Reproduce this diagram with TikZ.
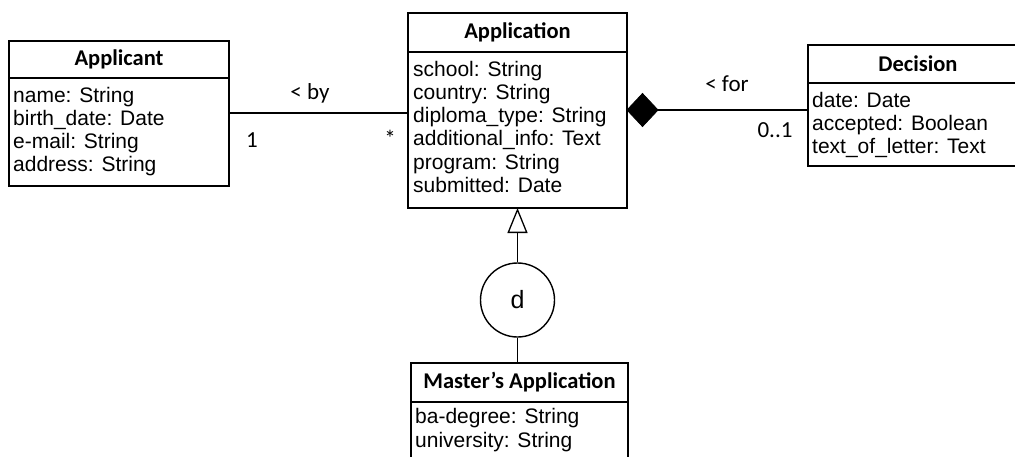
\documentclass[tikz,border=0pt]{standalone}
\usepackage{fontspec}
\setmainfont{Liberation Sans}
\newfontfamily\hdrfont{Carlito}
\usetikzlibrary{shapes.geometric,arrows.meta,calc}
\begin{document}
\begin{tikzpicture}[x=1pt,y=-1pt,
  box/.style={draw, line width=1.6pt, inner sep=0pt, outer sep=0pt, anchor=north west},
  hdr/.style={box, font=\hdrfont\bfseries\fontsize{22.5}{27}\selectfont},
  attr/.style={inner sep=0pt, anchor=base west, align=left, font=\fontsize{21}{23.3}\selectfont},
  lbl/.style={inner sep=0pt, font=\hdrfont\fontsize{23}{27}\selectfont},
  conn/.style={line width=1.5pt}]
\useasboundingbox (0,0) rectangle (1015,456);
\clip (0,0) rectangle (1015,456);
\fill[white] (0,0) rectangle (1015,456);

% Applicant
\node[box, minimum width=220, minimum height=108] (apB) at (9,78) {};
\node[hdr, minimum width=220, minimum height=37, anchor=south west] (apH) at (apB.north west) {Applicant};
\node[attr] (apT) at ($(apB.north west)+(4,93.9)$) {name: String\\birth\_date: Date\\e-mail: String\\address: String};

% Application
\node[box, minimum width=219, minimum height=156] (acB) at (408,52) {};
\node[hdr, minimum width=219, minimum height=39, anchor=south west] (acH) at (acB.north west) {Application};
\node[attr] (acT) at ($(acB.north west)+(5,140.5)$) {school: String\\country: String\\diploma\_type: String\\additional\_info: Text\\program: String\\submitted: Date};

% Decision
\node[box, minimum width=220, minimum height=83] (deB) at (808,83) {};
\node[hdr, minimum width=220, minimum height=38, anchor=south west] (deH) at (deB.north west) {Decision};
\node[attr] (deT) at ($(deB.north west)+(4,70.6)$) {date: Date\\accepted: Boolean\\text\_of\_letter: Text};

% Master's Application
\node[box, minimum width=217, minimum height=90] (msB) at (411,402) {};
\node[hdr, minimum width=217, minimum height=39, anchor=south west] (msH) at (msB.north west) {Master’s Application};
\node[attr] (msT) at ($(msB.north west)+(4,45)$) {ba-degree: String\\university: String};

% association "by"
\coordinate (byL) at ($(apB.north east)+(0,35)$);
\draw[conn] (byL) -- (byL -| acB.west);
\node[lbl] (byLbl) at (310,93) {< by};
\node[lbl] (byOne) at (252,140) {1};
\node[lbl] (byMany) at (390,138) {*};

% composition "for"
\node[diamond, fill=black, draw=black, line width=0.8pt, inner sep=0pt, outer sep=0pt,
      minimum width=31, minimum height=33, anchor=west] (dia) at ($(acB.north east)+(0,58)$) {};
\draw[conn] (dia.east) -- (dia.east -| deB.west);
\node[lbl] (forLbl) at (727,84) {< for};
\node[lbl] (forMult) at (775,130) {0..1};

% generalization
\node[circle, draw, line width=1.4pt, minimum size=74, inner sep=0pt,
      font=\fontsize{25}{30}\selectfont] (gd) at ($(acB.south)+(0,92)$) {d};
\draw[conn, -{Triangle[open, length=25pt, width=20pt, line width=1.3pt]}] (gd.north) -- (acB.south);
\draw[conn] (gd.south) -- (gd.south |- msH.north);
\end{tikzpicture}
\end{document}
